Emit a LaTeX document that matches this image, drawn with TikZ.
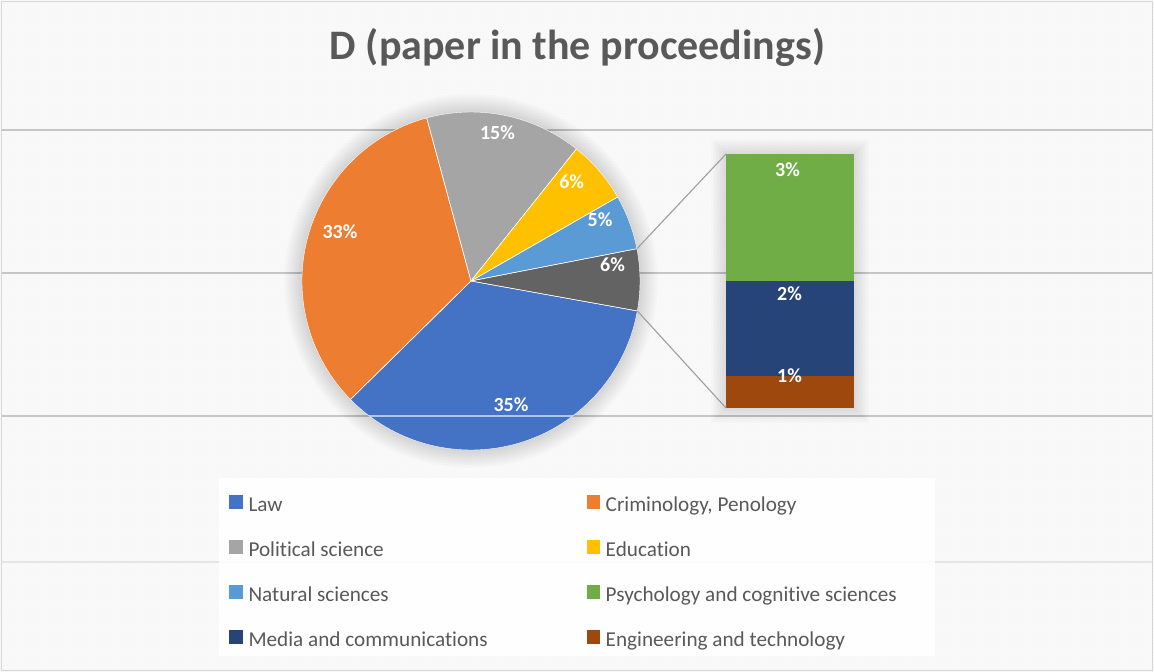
\documentclass[tikz,border=0pt]{standalone}
\usepackage{fontspec}
\setmainfont{Carlito}[Ligatures=NoCommon]
\usetikzlibrary{patterns,calc}
\definecolor{cLaw}{HTML}{4472C4}
\definecolor{cCrim}{HTML}{ED7D31}
\definecolor{cPol}{HTML}{A5A5A5}
\definecolor{cEdu}{HTML}{FFC000}
\definecolor{cNat}{HTML}{5B9BD5}
\definecolor{cPsy}{HTML}{70AD47}
\definecolor{cMed}{HTML}{264478}
\definecolor{cEng}{HTML}{9E480E}
\definecolor{cOth}{HTML}{636363}
\definecolor{cTxt}{HTML}{595959}
\definecolor{cBg}{HTML}{FBFBFB}
\definecolor{cGrid}{HTML}{C6C6C6}
\tikzset{
  slice/.style={draw=white, line width=0.4pt, line join=round},
  lab/.style={text=white, inner sep=0pt, font=\bfseries\fontsize{20}{24}\selectfont},
  barseg/.style={minimum width=128pt, inner sep=0pt, outer sep=0pt, anchor=north west},
  conn/.style={draw=black!38, line width=1.1pt},
  sq/.style={minimum size=13.5pt, inner sep=0pt, outer sep=0pt},
  lt/.style={anchor=base west, inner sep=0pt, text=cTxt, font=\fontsize{21.2}{25}\selectfont},
  grid/.style={draw=cGrid, line width=1.6pt}
}
\begin{document}
\begin{tikzpicture}[x=1pt,y=-1pt]
\useasboundingbox (0,0) rectangle (1154,672);
% background
\fill[cBg] (0,0) rectangle (1154,672);
\fill[pattern=north east lines, pattern color=black!4] (0,0) rectangle (1154,672);
\draw[black!16, line width=1.4pt] (1.5,1.5) rectangle (1152.5,670.5);
% gridlines
\draw[grid] (2,130) -- (1152,130);
\draw[grid] (2,273) -- (1152,273);
\draw[grid] (2,416) -- (1152,416);
\draw[draw=black!10, line width=1.3pt] (2,562) -- (1152,562);
% title
\node[anchor=base, text=cTxt, inner sep=0pt, font=\bfseries\fontsize{42}{48}\selectfont] (title) at (577.5,59.3) {D (paper in the proceedings)};
% pie
\coordinate (c) at (471,281);
\foreach \i in {1,...,12}{
  \fill[black, opacity=0.013] (c) circle[radius={(169+\i*1.5)*1pt}];
}
\fill[slice, fill=cLaw] (c) -- ($(c)+(-135.5:169pt)$) arc[start angle=-135.5, end angle=-10.2, radius=169pt] -- cycle;
\fill[slice, fill=cCrim] (c) -- ($(c)+(105.2:169pt)$) arc[start angle=105.2, end angle=224.5, radius=169pt] -- cycle;
\fill[slice, fill=cPol] (c) -- ($(c)+(51.4:169pt)$) arc[start angle=51.4, end angle=105.2, radius=169pt] -- cycle;
\fill[slice, fill=cEdu] (c) -- ($(c)+(29.8:169pt)$) arc[start angle=29.8, end angle=51.4, radius=169pt] -- cycle;
\fill[slice, fill=cNat] (c) -- ($(c)+(11:169pt)$) arc[start angle=11, end angle=29.8, radius=169pt] -- cycle;
\fill[slice, fill=cOth] (c) -- ($(c)+(-10.2:169pt)$) arc[start angle=-10.2, end angle=11, radius=169pt] -- cycle;
\draw[slice] (c) -- ($(c)+(-135.5:169pt)$) (c) -- ($(c)+(105.2:169pt)$) (c) -- ($(c)+(51.4:169pt)$)
  (c) -- ($(c)+(29.8:169pt)$) (c) -- ($(c)+(11:169pt)$) (c) -- ($(c)+(-10.2:169pt)$);
% gridline crossing the pie
\begin{scope}
  \clip (c) circle[radius=169pt];
  \draw[white, opacity=0.6, line width=1.4pt] (290,416) -- (650,416);
\end{scope}
% bar of pie
\foreach \i in {1,...,10}{
  \fill[black, opacity=0.012] ({726-\i*1.5},{154-\i*1.5}) rectangle ({854+\i*1.5},{408+\i*1.5});
}
\node[barseg, fill=cPsy, minimum height=127pt] (g) at (726,154) {};
\node[barseg, fill=cMed, minimum height=95pt] (m) at (g.south west) {};
\node[barseg, fill=cEng, minimum height=32pt] (e) at (m.south west) {};
\coordinate (s1) at ($(c)+(11:169pt)$);
\coordinate (s2) at ($(c)+(-10.2:169pt)$);
\draw[conn] (s1) -- (g.north west);
\draw[conn] (s2) -- (e.south west);
% data labels
\node[lab] (l33) at (340,231.7) {33\%};
\node[lab] (l15) at (497.5,133) {15\%};
\node[lab] (l6a) at (571.7,181.7) {6\%};
\node[lab] (l5) at (600,219.3) {5\%};
\node[lab] (l6b) at (612.5,265) {6\%};
\node[lab] (l35) at (511,404.3) {35\%};
\node[lab] (l3) at (787.5,170) {3\%};
\node[lab] (l2) at (789.5,293.3) {2\%};
\node[lab] (l1) at (789.5,375.5) {1\%};
% legend
\fill[white, opacity=0.88] (219,478) rectangle (935,656);
\node[sq, fill=cLaw] (kLaw) at (236,501.8) {};
\node[lt] (tLaw) at (248.3,511.3) {Law};
\node[sq, fill=cCrim] (kCrim) at (593.5,501.8) {};
\node[lt] (tCrim) at (605.5,511.3) {Criminology, Penology};
\node[sq, fill=cPol] (kPol) at (236,547.2) {};
\node[lt] (tPol) at (248.3,556.7) {Political science};
\node[sq, fill=cEdu] (kEdu) at (593.5,547.2) {};
\node[lt] (tEdu) at (605.5,556.7) {Education};
\node[sq, fill=cNat] (kNat) at (236,592) {};
\node[lt] (tNat) at (248.3,601.5) {Natural sciences};
\node[sq, fill=cPsy] (kPsy) at (593.5,592) {};
\node[lt] (tPsy) at (605.5,601.5) {Psychology and cognitive sciences};
\node[sq, fill=cMed] (kMed) at (236,636.8) {};
\node[lt] (tMed) at (248.3,646.3) {Media and communications};
\node[sq, fill=cEng] (kEng) at (593.5,636.8) {};
\node[lt] (tEng) at (605.5,646.3) {Engineering and technology};
\end{tikzpicture}
\end{document}
